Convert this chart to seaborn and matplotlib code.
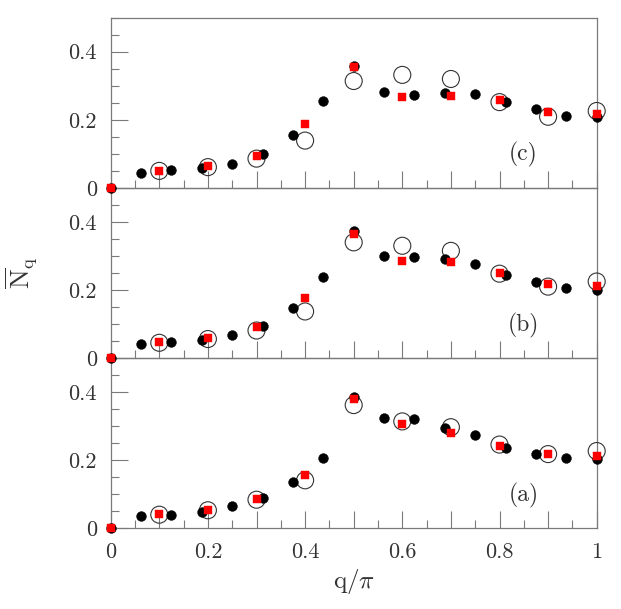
import matplotlib
matplotlib.use("Agg")
import matplotlib.pyplot as plt
import seaborn as sns
import pandas as pd
from matplotlib.ticker import FixedLocator, FixedFormatter, MultipleLocator

# ---- data ----
x_black = [0.0, 0.0625, 0.125, 0.1875, 0.25, 0.3125, 0.375, 0.4375, 0.5,
           0.5625, 0.625, 0.6875, 0.75, 0.8125, 0.875, 0.9375, 1.0]
black_c = [0.0, 0.045, 0.053, 0.057, 0.071, 0.099, 0.156, 0.254, 0.358,
           0.281, 0.274, 0.278, 0.275, 0.253, 0.232, 0.211, 0.208]
black_b = [0.0, 0.042, 0.048, 0.053, 0.069, 0.095, 0.147, 0.237, 0.372,
           0.300, 0.296, 0.291, 0.276, 0.245, 0.224, 0.206, 0.201]
black_a = [0.0, 0.036, 0.040, 0.049, 0.066, 0.090, 0.135, 0.207, 0.387,
           0.324, 0.321, 0.294, 0.274, 0.236, 0.219, 0.206, 0.203]

x_red = [0.0, 0.1, 0.2, 0.3, 0.4, 0.5, 0.6, 0.7, 0.8, 0.9, 1.0]
red_c = [0.0, 0.051, 0.063, 0.094, 0.188, 0.355, 0.267, 0.271, 0.258, 0.222, 0.217]
red_b = [0.0, 0.048, 0.058, 0.090, 0.176, 0.366, 0.285, 0.281, 0.251, 0.217, 0.213]
red_a = [0.0, 0.041, 0.053, 0.087, 0.157, 0.379, 0.306, 0.281, 0.242, 0.218, 0.213]

x_open = [0.1, 0.2, 0.3, 0.4, 0.5, 0.6, 0.7, 0.8, 0.9, 1.0]
open_c = [0.050, 0.061, 0.086, 0.139, 0.314, 0.332, 0.320, 0.252, 0.209, 0.226]
open_b = [0.045, 0.056, 0.081, 0.137, 0.340, 0.330, 0.315, 0.248, 0.210, 0.225]
open_a = [0.040, 0.053, 0.084, 0.141, 0.362, 0.314, 0.297, 0.246, 0.218, 0.227]

panel_labels = ["(c)", "(b)", "(a)"]
x_major_vals = [0.0, 0.1, 0.2, 0.3, 0.4, 0.5, 0.6, 0.7, 0.8, 0.9, 1.0]
x_tick_labels = ["0", "", "0.2", "", "0.4", "", "0.6", "", "0.8", "", "1"]
y_tick_vals = [0.0, 0.2, 0.4]
y_tick_labels = ["0", "0.2", "0.4"]
x_label = r"$\mathrm{q}/\pi$"
y_label = r"$\overline{\mathrm{N}}_{\mathrm{q}}$"

# ---- style ----
sns.set_style("white")
plt.rcParams["font.family"] = ["cmr10", "DejaVu Serif"]
plt.rcParams["mathtext.fontset"] = "cm"
plt.rcParams["axes.formatter.use_mathtext"] = True

spine_col = "#7a7a7a"
text_col = "#333333"
fs = 16

fig = plt.figure(figsize=(6.21, 6.09), dpi=100)
left, right = 110.7 / 621, 596.7 / 621
top_px, bot_px = 17.7, 528.3
ph = (bot_px - top_px) / 3 / 609

panels = [
    (black_c, red_c, open_c),
    (black_b, red_b, open_b),
    (black_a, red_a, open_a),
]

for i, (bk, rd, op) in enumerate(panels):
    b = 1 - bot_px / 609 + (2 - i) * ph
    ax = fig.add_axes([left, b, right - left, ph], zorder=10 - i)
    ax.patch.set_visible(False)
    df_o = pd.DataFrame({"x": x_open, "y": op})
    df_b = pd.DataFrame({"x": x_black, "y": bk})
    df_r = pd.DataFrame({"x": x_red, "y": rd})
    sns.scatterplot(data=df_o, x="x", y="y", ax=ax, s=150, marker="o",
                    facecolor="none", edgecolor="#333333", linewidth=0.8,
                    clip_on=False, zorder=3, legend=False)
    sns.scatterplot(data=df_b, x="x", y="y", ax=ax, s=50, marker="o",
                    color="black", edgecolor="black", linewidth=0.3,
                    clip_on=False, zorder=4, legend=False)
    sns.scatterplot(data=df_r, x="x", y="y", ax=ax, s=26, marker="s",
                    color="#ff0000", edgecolor="#ff0000", linewidth=0.3,
                    clip_on=False, zorder=5, legend=False)
    ax.set_xlim(0, 1)
    ax.set_ylim(0, 0.5)
    ax.set_xlabel("")
    ax.set_ylabel("")
    for sp in ax.spines.values():
        sp.set_color(spine_col)
        sp.set_linewidth(0.9)
        sp.set_visible(True)
        sp.set_zorder(2)
    ax.yaxis.set_major_locator(FixedLocator(y_tick_vals))
    ax.yaxis.set_major_formatter(FixedFormatter(y_tick_labels))
    ax.yaxis.set_minor_locator(MultipleLocator(0.05))
    ax.xaxis.set_major_locator(FixedLocator(x_major_vals))
    ax.xaxis.set_minor_locator(MultipleLocator(0.05))
    if i < 2:
        ax.xaxis.set_major_formatter(FixedFormatter([""] * len(x_major_vals)))
    else:
        ax.xaxis.set_major_formatter(FixedFormatter(x_tick_labels))
        ax.set_xlabel(x_label, fontsize=fs + 2, color=text_col, labelpad=4)
    ax.tick_params(which="both", direction="in", color=spine_col, width=0.8,
                   left=True, bottom=True, top=False, right=False,
                   labelsize=fs, labelcolor=text_col)
    ax.tick_params(which="major", length=12, pad=10)
    ax.tick_params(which="minor", length=6)
    ax.text(0.849, 0.097, panel_labels[i], fontsize=fs + 1, color=text_col,
            ha="center", va="center", transform=ax.transData)

fig.text(21 / 621, 1 - 273 / 609, y_label, rotation=90, fontsize=fs + 3,
         color=text_col, ha="center", va="center")

fig.savefig("out.png", dpi=100)
